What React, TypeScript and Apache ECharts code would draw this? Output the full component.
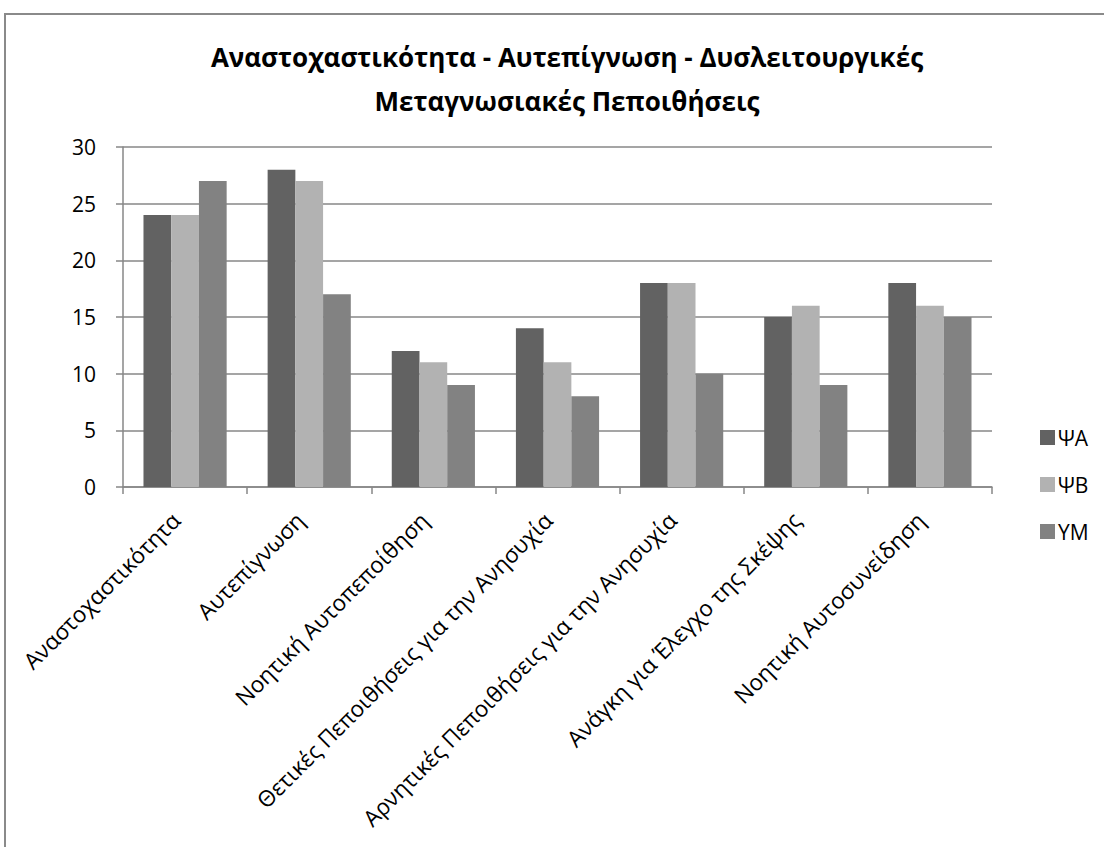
import React, { useEffect, useRef } from "react";
import * as echarts from "echarts";

const categories = [
  "Αναστοχαστικότητα",
  "Αυτεπίγνωση",
  "Νοητική Αυτοπεποίθηση",
  "Θετικές Πεποιθήσεις για την Ανησυχία",
  "Αρνητικές Πεποιθήσεις για την Ανησυχία",
  "Ανάγκη για Έλεγχο της Σκέψης",
  "Νοητική Αυτοσυνείδηση",
];

const seriesNames = ["ΨΑ", "ΨΒ", "ΥΜ"];
const valuesPsiA = [24, 28, 12, 14, 18, 15, 18];
const valuesPsiB = [24, 27, 11, 11, 18, 16, 16];
const valuesYM = [27, 17, 9, 8, 10, 9, 15];
const colors = ["#626262", "#b2b2b2", "#828282"];

const titleText =
  "Αναστοχαστικότητα - Αυτεπίγνωση - Δυσλειτουργικές\nΜεταγνωσιακές Πεποιθήσεις";

const FONT = "'Open Sans', sans-serif";

export default function App() {
  const ref = useRef<HTMLDivElement>(null);

  useEffect(() => {
    if (!ref.current) return;
    const chart = echarts.init(ref.current, null, { renderer: "svg" });
    const allValues = [valuesPsiA, valuesPsiB, valuesYM];
    chart.setOption({
      animation: false,
      backgroundColor: "#ffffff",
      textStyle: { fontFamily: FONT },
      title: {
        text: titleText,
        left: 562,
        top: 30,
        textAlign: "center",
        textStyle: {
          fontFamily: FONT,
          fontWeight: "bold",
          fontSize: 26,
          lineHeight: 44,
          color: "#000000",
        },
      },
      graphic: [
        {
          type: "rect",
          shape: { x: 5, y: 14, width: 1200, height: 900 },
          style: { fill: "none", stroke: "#8a8a8a", lineWidth: 2 },
          silent: true,
        },
      ],
      legend: {
        orient: "vertical",
        left: 1035,
        top: 422,
        itemWidth: 15,
        itemHeight: 15,
        itemGap: 26,
        icon: "rect",
        data: seriesNames,
        textStyle: { fontFamily: FONT, fontSize: 21, color: "#000", padding: [0, 0, 0, -2] },
      },
      grid: { left: 123, right: 112, top: 147, bottom: 360, containLabel: false },
      xAxis: {
        type: "category",
        data: categories,
        axisLine: { lineStyle: { color: "#878787", width: 1.5 } },
        axisTick: { show: true, length: 7, lineStyle: { color: "#878787", width: 1.5 } },
        axisLabel: {
          interval: 0,
          rotate: 45,
          fontFamily: FONT,
          fontSize: 22.5,
          color: "#000",
          margin: 20,
          padding: [0, 13, 0, 0],
        },
      },
      yAxis: {
        type: "value",
        min: 0,
        max: 30,
        interval: 5,
        axisLine: { show: true, lineStyle: { color: "#878787", width: 1.5 } },
        axisTick: { show: true, length: 7, lineStyle: { color: "#878787", width: 1.5 } },
        splitLine: { lineStyle: { color: "#878787", width: 1.5 } },
        axisLabel: { fontFamily: FONT, fontSize: 21, color: "#000", margin: 27 },
      },
      series: seriesNames.map((name, i) => ({
        name,
        type: "bar",
        data: allValues[i],
        barGap: "0%",
        barCategoryGap: "33%",
        itemStyle: { color: colors[i] },
      })),
    });
    return () => chart.dispose();
  }, []);

  return (
    <div
      ref={ref}
      style={{ position: "fixed", left: 0, top: 0, width: 1104, height: 847 }}
    />
  );
}
